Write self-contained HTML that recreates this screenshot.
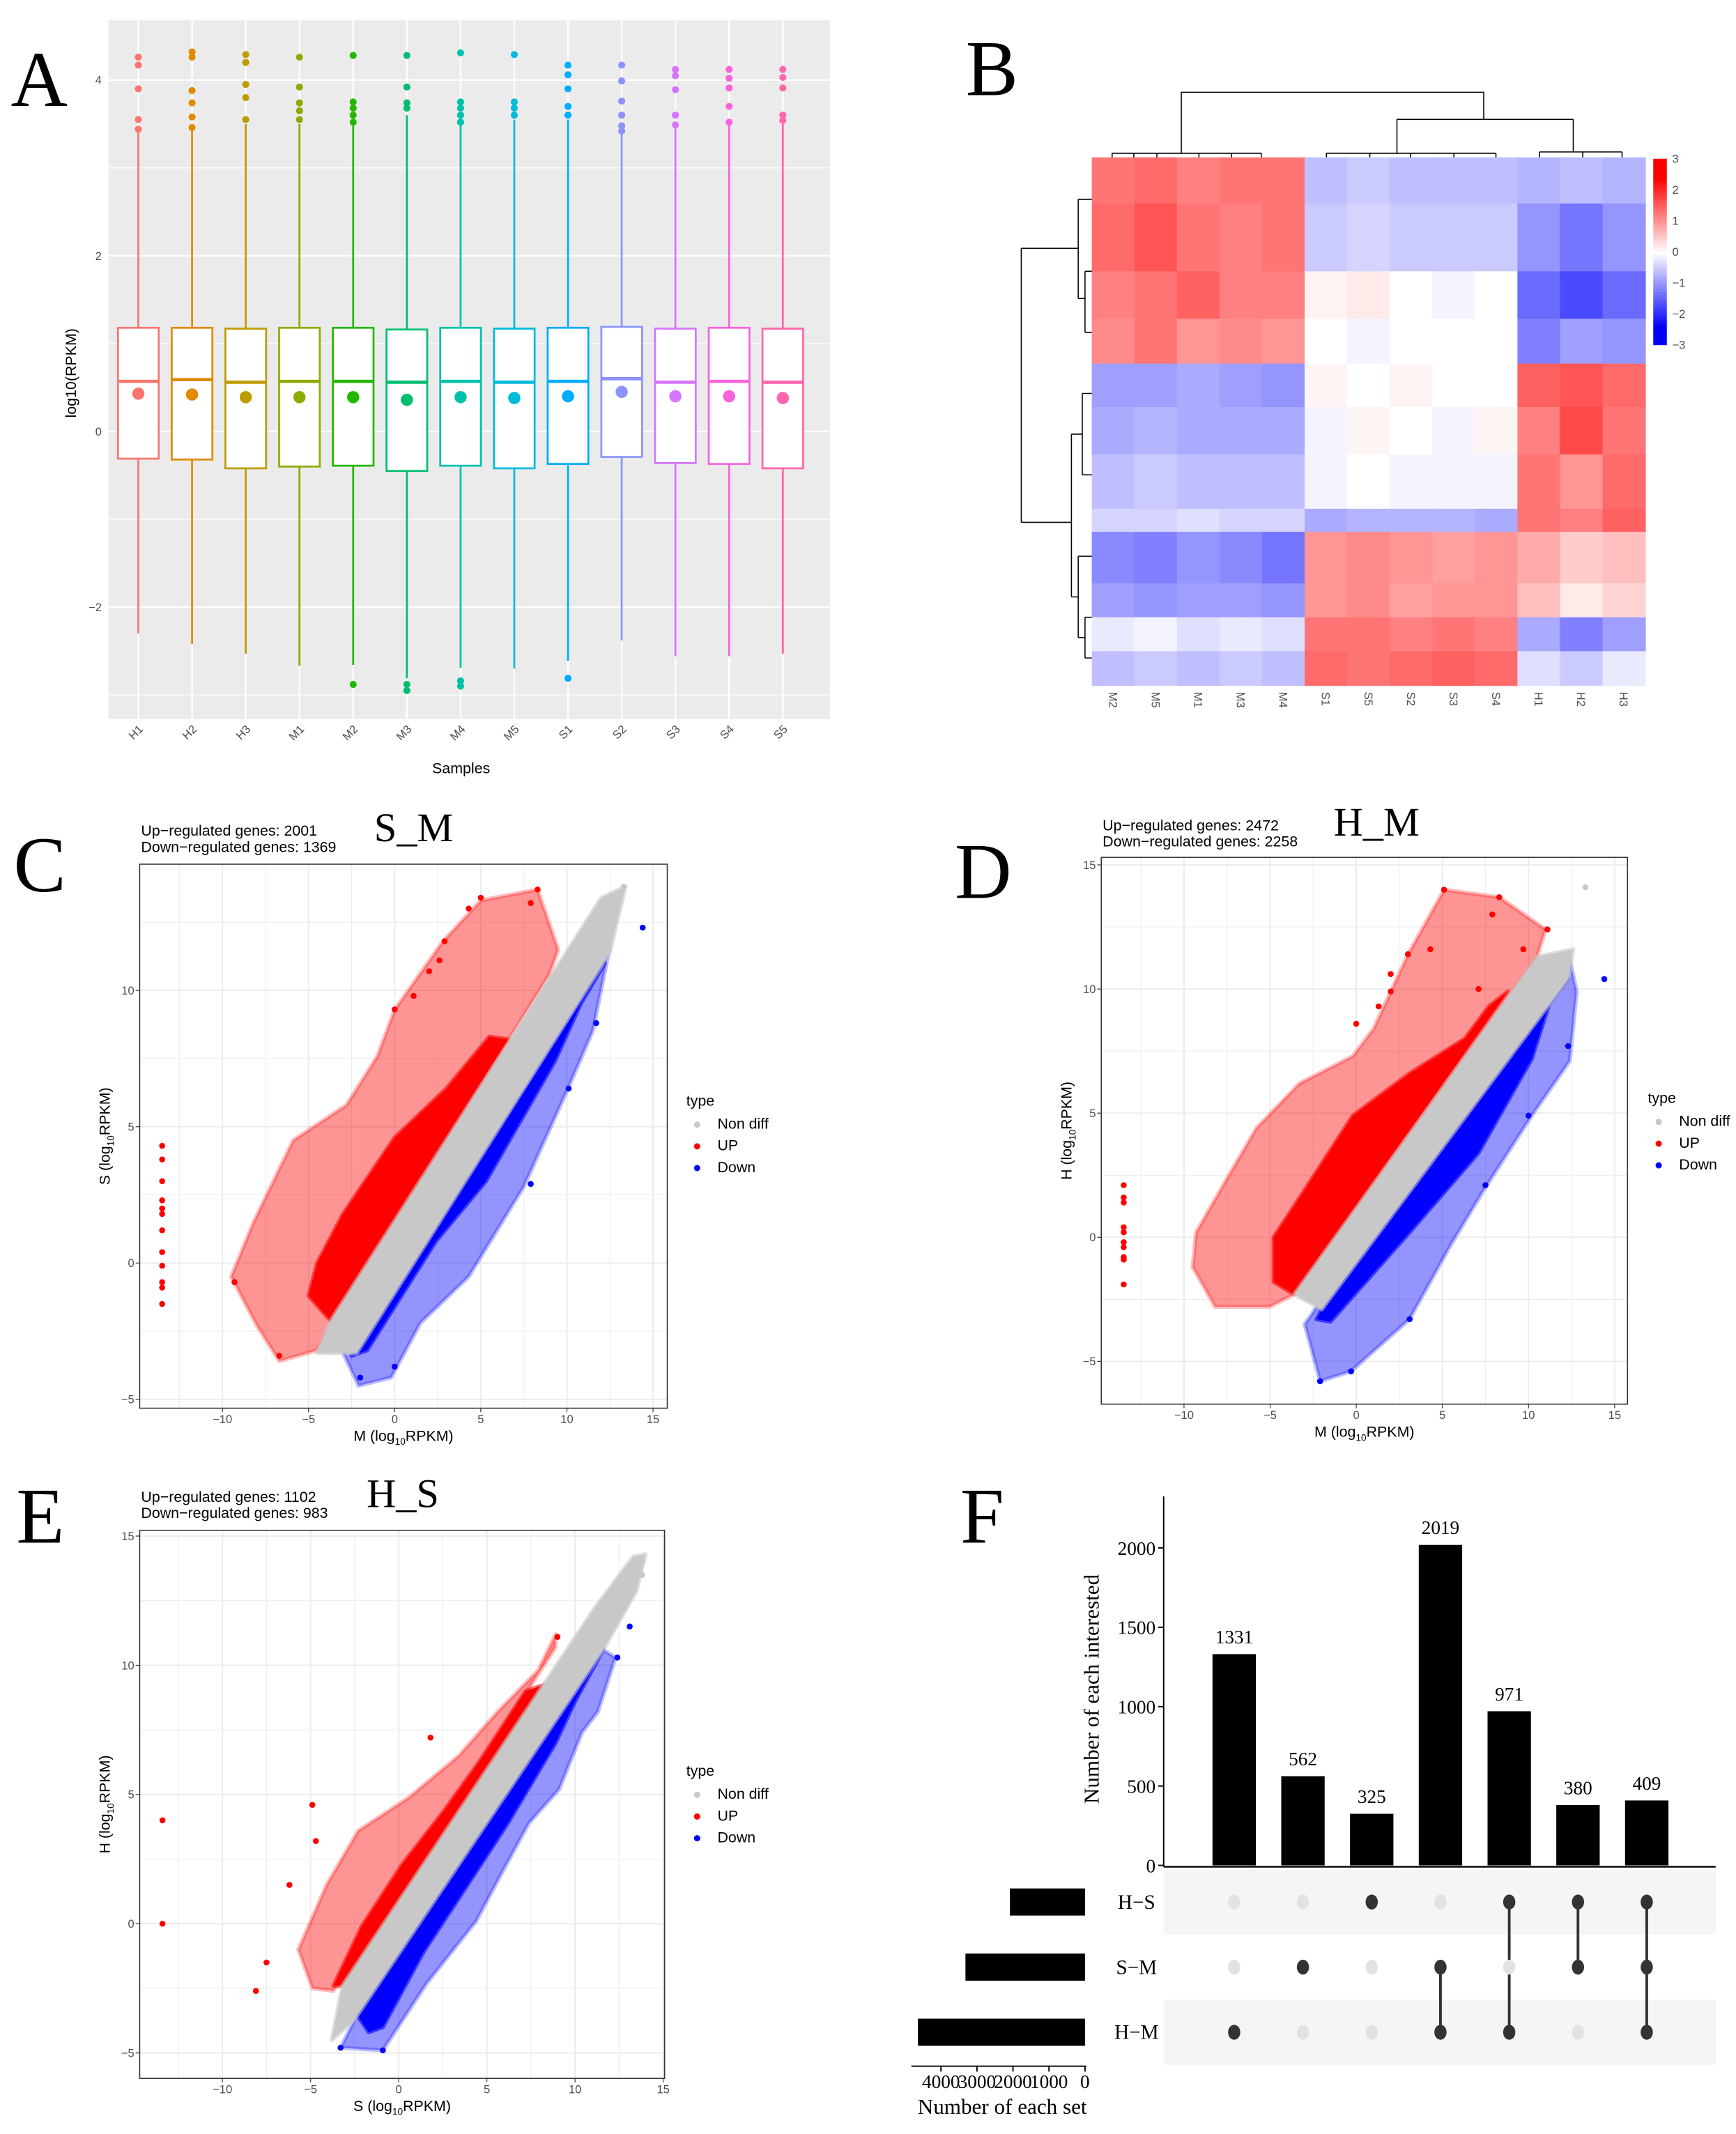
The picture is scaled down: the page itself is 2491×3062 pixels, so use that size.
<!DOCTYPE html>
<html><head><meta charset="utf-8"><style>
html,body{margin:0;padding:0;background:#fff;}
svg{display:block;}
.ax{font-family:"Liberation Sans",sans-serif;fill:#4d4d4d;font-size:8.5px;}
.lab{font-family:"Liberation Sans",sans-serif;fill:#000;font-size:11px;}
.ser{font-family:"Liberation Serif",serif;fill:#000;}
</style></head><body>
<svg id="fig" width="2491" height="3062" viewBox="0 0 1280 1573" preserveAspectRatio="none" xmlns="http://www.w3.org/2000/svg">
<text class="ser" x="8" y="78" font-size="58">A</text>
<text class="ser" x="712" y="70" font-size="58">B</text>
<text class="ser" x="10" y="657" font-size="58">C</text>
<text class="ser" x="704" y="662" font-size="58">D</text>
<text class="ser" x="12" y="1137" font-size="58">E</text>
<text class="ser" x="708" y="1137" font-size="58">F</text>
<g id="pa"></g>
<g id="pb"></g>
<g id="pc"></g>
<g id="pd"></g>
<g id="pe"></g>
<g id="pf"></g>
</svg>
<script>
// ---------- Panel A data ----------
const aSamples=["H1","H2","H3","M1","M2","M3","M4","M5","S1","S2","S3","S4","S5"];
const aColors=["#F8766D","#E18A00","#BE9C00","#8CAB00","#24B700","#00BE70","#00C1AB","#00BBDA","#00ACFC","#8B93FF","#D575FE","#F962DD","#FF65AC"];
const aQ1=[-0.31,-0.32,-0.42,-0.40,-0.39,-0.45,-0.39,-0.42,-0.37,-0.29,-0.36,-0.37,-0.42];
const aMed=[0.57,0.59,0.56,0.57,0.57,0.56,0.57,0.56,0.57,0.60,0.56,0.57,0.56];
const aQ3=[1.18,1.18,1.17,1.18,1.18,1.16,1.18,1.17,1.18,1.19,1.17,1.18,1.17];
const aMean=[0.43,0.42,0.39,0.39,0.39,0.36,0.39,0.38,0.40,0.45,0.40,0.40,0.38];
const aLo=[-2.30,-2.42,-2.53,-2.67,-2.66,-2.81,-2.69,-2.70,-2.61,-2.38,-2.56,-2.56,-2.53];
const aHi=[3.42,3.44,3.5,3.5,3.48,3.6,3.5,3.55,3.55,3.4,3.45,3.5,3.5];
const aOut=[[4.26,4.17,3.9,3.55,3.44],[4.32,4.26,3.88,3.74,3.58,3.46],[4.29,4.2,3.95,3.8,3.55],[4.26,3.92,3.74,3.65,3.55],[4.28,3.75,3.68,3.6,3.52,-2.88],[4.28,3.92,3.74,3.68,-2.88,-2.95],[4.31,3.75,3.68,3.6,3.52,-2.84,-2.9],[4.29,3.75,3.68,3.6],[4.17,4.06,3.9,3.7,3.6,-2.81],[4.17,3.99,3.76,3.6,3.48,3.42],[4.12,4.05,3.89,3.6,3.49],[4.12,4.02,3.91,3.7,3.52],[4.12,4.03,3.91,3.6,3.54]];
const aTicks=[4,2,0,-2];

// ---------- Panel B data ----------
const bCols=["M2","M5","M1","M3","M4","S1","S5","S2","S3","S4","H1","H2","H3"];
const bSegH=[34,50,35,33,32,35,40,17,38,25,25,25];
const bSegV=[
[1.3,1.4,1.2,1.3,1.3,-0.6,-0.5,-0.6,-0.6,-0.6,-0.7,-0.6,-0.7],
[1.4,1.6,1.3,1.2,1.3,-0.5,-0.4,-0.5,-0.5,-0.5,-1.0,-1.3,-1.0],
[1.2,1.3,1.5,1.2,1.2,0.1,0.2,0.0,-0.1,0.0,-1.4,-1.7,-1.4],
[1.1,1.3,1.0,1.1,1.0,0.0,-0.1,0.0,0.0,0.0,-1.2,-0.9,-1.0],
[-0.9,-0.9,-0.8,-0.9,-1.0,0.1,0.0,0.1,0.0,0.0,1.5,1.6,1.4],
[-0.8,-0.7,-0.8,-0.8,-0.8,-0.1,0.1,0.0,-0.1,0.1,1.2,1.7,1.3],
[-0.6,-0.5,-0.6,-0.6,-0.6,-0.1,0.0,-0.1,-0.1,-0.1,1.3,1.0,1.4],
[-0.4,-0.4,-0.3,-0.4,-0.4,-0.8,-0.7,-0.7,-0.7,-0.8,1.3,1.2,1.5],
[-1.1,-1.2,-1.0,-1.1,-1.3,1.0,1.1,1.0,0.9,1.0,0.8,0.5,0.6],
[-0.9,-1.0,-0.9,-0.9,-1.0,1.0,1.1,0.9,1.0,1.0,0.6,0.2,0.4],
[-0.2,-0.1,-0.3,-0.2,-0.3,1.3,1.3,1.2,1.3,1.2,-0.8,-1.2,-0.9],
[-0.6,-0.5,-0.6,-0.5,-0.6,1.4,1.3,1.4,1.5,1.4,-0.3,-0.5,-0.2]];
const bScale=[3,2,1,0,-1,-2,-3];

// ---------- Scatter data (polygons in data units, points) ----------
const cGray=[[-4.5,-3.3],[-2.2,-3.3],[12.5,11.4],[13.4,13.8],[12,13.4],[-3.7,-2.1]];
const cRedSparse=[[-9.5,-0.5],[-8,-2.3],[-6.7,-3.6],[-4.5,-3.2],[-3.6,-2.2],[9,10.6],[9.5,11.5],[8.3,13.7],[5,13.3],[2.8,11.8],[0,9.3],[-1,7.6],[-2.8,5.8],[-5.9,4.5],[-8.2,1.5]];
const cRedCore=[[-5,-1.2],[-3.6,-2.2],[6.6,8.2],[5.5,8.3],[3,6.4],[0,4.6],[-3,1.8],[-4.5,0]];
const cBlueSparse=[[-2.1,-4.5],[-0.2,-4.2],[1.5,-2.2],[4.3,-0.5],[7.5,2.8],[10,6.3],[11.5,8.5],[12.5,11.6],[12,11.8],[-3,-3.3]];
const cBlueCore=[[-2.5,-3.4],[-1.6,-3.2],[2.4,0.8],[5.3,3],[9.3,7.4],[10.8,9.5],[12.2,11],[-2.2,-3.3]];
const cRedPts=[[-13.5,4.3],[-13.5,3.8],[-13.5,3.0],[-13.5,2.3],[-13.5,2.0],[-13.5,1.8],[-13.5,1.2],[-13.5,0.4],[-13.5,-0.1],[-13.5,-0.7],[-13.5,-0.9],[-13.5,-1.5],[8.3,13.7],[7.9,13.2],[5,13.4],[4.3,13],[2.9,11.8],[2.6,11.1],[2,10.7],[1.1,9.8],[0,9.3],[-9.3,-0.7],[-6.7,-3.4]];
const cGrayPts=[[13.3,13.8]];
const cBluePts=[[14.4,12.3],[11.7,8.8],[10.1,6.4],[7.9,2.9],[-2,-4.2],[0,-3.8]];

const dGray=[[-3.6,-2.3],[-2,-2.9],[12.3,10.4],[12.6,11.6],[10.5,11.3]];
const dRedSparse=[[-9.5,-1.2],[-8.2,-2.8],[-5,-2.8],[-3.6,-2.3],[10.5,11.3],[11,12.4],[8.3,13.7],[5.1,14],[3,11.4],[1,8.4],[-0.2,7.3],[-3.3,6.2],[-5.8,4.4],[-7.4,2.5],[-9.3,0.2]];
const dRedCore=[[-4.8,-1.8],[-3.6,-2.3],[8.8,9.9],[7.7,9.3],[6.3,8],[3.1,6.6],[-0.2,4.9],[-3,1.9],[-4.8,0]];
const dBlueSparse=[[-3,-3.5],[-2.1,-5.8],[-0.3,-5.4],[3.1,-3.3],[5.5,-0.3],[7.5,2],[10.2,4.9],[12.4,7.1],[12.8,9.9],[12.4,11.2],[11.5,11]];
const dBlueCore=[[-2,-2.9],[-2.3,-3.3],[-1.5,-3.4],[3.1,0.2],[7.1,3.4],[10.2,7.2],[11.8,10.7],[12.3,10.4]];
const dRedPts=[[-13.5,2.1],[-13.5,1.6],[-13.5,1.4],[-13.5,0.4],[-13.5,0.2],[-13.5,-0.2],[-13.5,-0.4],[-13.5,-0.8],[-13.5,-0.9],[-13.5,-1.9],[5.1,14],[8.3,13.7],[7.9,13],[11.1,12.4],[3,11.4],[4.3,11.6],[2,10.6],[2,9.9],[1.3,9.3],[0,8.6],[7.1,10],[9.7,11.6]];
const dGrayPts=[[13.3,14.1]];
const dBluePts=[[14.4,10.4],[12.3,7.7],[10,4.9],[7.5,2.1],[3.1,-3.3],[-2.1,-5.8],[-0.3,-5.4]];

const eGray=[[-3.8,-4.5],[-2.5,-3.7],[11.6,10.6],[13.5,12.9],[14,14.3],[13.3,14.2],[11.2,12.3],[-3.2,-2.4]];
const eRedSparse=[[-5.7,-1],[-4.9,-2.5],[-3.7,-2.6],[8.9,10.7],[8.9,11.2],[7.9,9.8],[5.6,8.2],[3.4,6.5],[0.6,4.9],[-2.3,3.6],[-4.1,1.5]];
const eRedCore=[[-3.7,-2.4],[-3.2,-2.4],[8.5,9.3],[7.2,9],[4.6,6.3],[2.6,4.4],[0.2,2.3],[-2.1,-0.1]];
const eBlueSparse=[[-3.3,-4.8],[-0.9,-4.9],[1.6,-2.3],[4.4,0.1],[5.8,1.9],[7.4,3.9],[9.1,5.2],[10.4,7.4],[11.3,8.2],[12.3,10.3],[11.6,10.6],[-2.5,-3.7]];
const eBlueCore=[[-2.4,-3.5],[-1.7,-4.2],[-0.9,-4],[1.4,-1.1],[4,1.6],[6.2,3.9],[8.9,7],[10,8.6],[11.6,10.6]];
const eRedPts=[[-13.4,4.0],[-13.4,0],[-8.1,-2.6],[-7.5,-1.5],[-6.2,1.5],[-4.9,4.6],[-4.7,3.2],[1.8,7.2],[9,11.1]];
const eGrayPts=[[13.8,14],[13.8,13.5],[13.3,12.9],[11.5,12.3]];
const eBluePts=[[13.1,11.5],[12.4,10.3],[-3.3,-4.8],[-0.9,-4.9]];

// ---------- Panel F data ----------
const fValues=[1331,562,325,2019,971,380,409];
const fSets=["H\u2212S","S\u2212M","H\u2212M"];
const fSetSizes=[2085,3320,4640];
const fMembership=[[2],[1],[0],[1,2],[0,2],[0,1],[0,1,2]];
const fTicks=[0,500,1000,1500,2000];
const fSetTicks=[4000,3000,2000,1000,0];

// ---------- helpers ----------
const NS="http://www.w3.org/2000/svg";
function mk(tag,attrs,parent){const e=document.createElementNS(NS,tag);for(const k in attrs)e.setAttribute(k,attrs[k]);parent.appendChild(e);return e;}
function txt(s,attrs,parent){const e=mk("text",attrs,parent);e.textContent=s;return e;}

// ---------- Panel A ----------
(function(){
const g=document.getElementById("pa");
const y=v=>318-v*64.75, x=i=>102+i*39.6;
let el=mk("rect",{x:80,y:15,width:532,height:515,fill:"#ebebeb"},g);


[3,1,-1,-3].forEach(v=>{const l=mk("line",{x1:80,x2:612,y1:y(v),y2:y(v),stroke:"#fff","stroke-width":0.6},g);

});
aTicks.forEach(v=>{const l=mk("line",{x1:80,x2:612,y1:y(v),y2:y(v),stroke:"#fff","stroke-width":1.2},g);


const t=txt(v<0?"\u2212"+(-v):String(v),{x:75,y:y(v)+3,"text-anchor":"end",class:"ax"},g);

});
aSamples.forEach((s,i)=>{
const l=mk("line",{x1:x(i),x2:x(i),y1:15,y2:530,stroke:"#fff","stroke-width":1.2},g);


const c=aColors[i];
const w=mk("line",{x1:x(i),x2:x(i),y1:y(aHi[i]),y2:y(aLo[i]),stroke:c,"stroke-width":1.4},g);


const b=mk("rect",{x:x(i)-15,y:y(aQ3[i]),width:30,height:y(aQ1[i])-y(aQ3[i]),fill:"#fff",stroke:c,"stroke-width":1.4},g);


const m=mk("line",{x1:x(i)-15,x2:x(i)+15,y1:y(aMed[i]),y2:y(aMed[i]),stroke:c,"stroke-width":2.4},g);


const mn=mk("circle",{cx:x(i),cy:y(aMean[i]),r:4.5,fill:c},g);


aOut[i].forEach(v=>{const o=mk("circle",{cx:x(i),cy:y(v),r:2.6,fill:c},g);

});
const t=txt(s,{x:0,y:0,transform:`translate(${x(i)+4},${538}) rotate(-45)`,"text-anchor":"end",class:"ax"},g);


});
let t=txt("Samples",{x:340,y:570,"text-anchor":"middle",class:"lab"},g);


t=txt("log10(RPKM)",{x:0,y:0,transform:"translate(56,275) rotate(-90)","text-anchor":"middle",class:"lab"},g);


})();

// ---------- Panel B ----------
(function(){
const g=document.getElementById("pb");
const x0=805,cw=408/13;
function col(v){const t=Math.min(Math.abs(v)/2.4,1);const k=Math.round(255*(1-t));
return v>=0?`rgb(255,${k},${k})`:`rgb(${k},${k},255)`;}
let yy=116;
bSegH.forEach((h,si)=>{
bSegV[si].forEach((v,ci)=>{
const r=mk("rect",{x:x0+ci*cw,y:yy,width:cw+0.5,height:h+0.5,fill:col(v)},g);

});
yy+=h;});
bCols.forEach((c,i)=>{const t=txt(c,{x:0,y:0,transform:`translate(${x0+cw*(i+0.5)-3},510) rotate(90)`,class:"ax","font-size":"8"},g);

});
for(let k=0;k<60;k++){const v=3-k*0.1;const r=mk("rect",{x:1219,y:117+k*137/60,width:10,height:137/60+0.4,fill:col(v)},g);

}
bScale.forEach(v=>{const t=txt(v<0?"\u2212"+(-v):String(v),{x:1233,y:117+(3-v)/6*137+3,class:"ax","font-size":"8"},g);

});
const d="M871,113 V68 H1094 V88 M1030,88 H1160 M1030,88 V113 M1160,88 V112 M836,113 H908 M836,113 v3 M908,113 v3 M853,116 v-3 M884,116 v-3 M930,116 v-3 M978,113 H1103 M978,113 v3 M1103,113 v3 M1010,116 v-3 M1040,116 v-3 M1072,116 v-3 M1135,112 H1196 M1135,112 v4 M1196,112 v4 M1167,116 v-4 M908,113 H930 M820,116 v-3 H836"
+" M753,183 V385 M753,183 H795 M753,385 H790 M795,147 V220 M795,147 H805 M795,220 H800 M800,200 V245 M800,200 H805 M800,245 H805 M790,320 V440 M790,320 H798 M790,440 H795 M798,290 V350 M798,290 H805 M798,350 H805 M795,410 V470 M795,410 H805 M795,470 H800 M800,455 V485 M800,455 H805 M800,485 H805";
const p=mk("path",{d:d,stroke:"#000","stroke-width":0.8,fill:"none"},g);


})();

// ---------- Scatter panels ----------
function scatter(id,o){
const g=document.getElementById(id);
const X=v=>o.x0+v*o.sx, Y=v=>o.y0-v*o.sy;
let el=mk("rect",{x:o.L,y:o.T,width:o.R-o.L,height:o.B-o.T,fill:"#fff"},g);


for(let v=-12.5;v<=17.5;v+=2.5){const px=X(v);if(px<o.L||px>o.R)continue;
const l=mk("line",{x1:px,x2:px,y1:o.T,y2:o.B,stroke:"#ebebeb","stroke-width":v%5===0?1:0.5},g);

}
for(let v=-7.5;v<=17.5;v+=2.5){const py=Y(v);if(py<o.T||py>o.B)continue;
const l=mk("line",{x1:o.L,x2:o.R,y1:py,y2:py,stroke:"#ebebeb","stroke-width":v%5===0?1:0.5},g);

}
o.xt.forEach(v=>{const t=txt(v<0?"\u2212"+(-v):String(v),{x:X(v),y:o.B+11,"text-anchor":"middle",class:"ax","font-size":"8"},g);


const k=mk("line",{x1:X(v),x2:X(v),y1:o.B,y2:o.B+3,stroke:"#333","stroke-width":0.6},g);

});
o.yt.forEach(v=>{const t=txt(v<0?"\u2212"+(-v):String(v),{x:o.L-4,y:Y(v)+3,"text-anchor":"end",class:"ax","font-size":"8"},g);


const k=mk("line",{x1:o.L-3,x2:o.L,y1:Y(v),y2:Y(v),stroke:"#333","stroke-width":0.6},g);

});
const poly=(pts,fill,op,name)=>{const p=mk("polygon",{points:pts.map(q=>X(q[0])+","+Y(q[1])).join(" "),fill:fill,"fill-opacity":op,stroke:fill,"stroke-opacity":op*0.6,"stroke-width":3,"stroke-linejoin":"round"},g);

};
poly(o.redS,"#ff0000",0.42,'up-genes-sparse');
poly(o.blueS,"#0000ff",0.42,'down-genes-sparse');
poly(o.redC,"#ff0000",1,'up-genes-dense');
poly(o.blueC,"#0000ff",1,'down-genes-dense');
poly(o.gray,"#c8c8c8",1,'nondiff-genes');
const pts=(arr,c,name)=>arr.forEach(q=>{const e=mk("circle",{cx:X(q[0]),cy:Y(q[1]),r:2.2,fill:c},g);

});
pts(o.rp,"#ff0000",'up-gene-point');pts(o.gp,"#c8c8c8",'nondiff-gene-point');pts(o.bp,"#0000ff",'down-gene-point');
el=mk("rect",{x:o.L,y:o.T,width:o.R-o.L,height:o.B-o.T,fill:"none",stroke:"#333","stroke-width":0.8},g);


let t=txt(o.title,{x:o.tx,y:o.ty,"text-anchor":"middle",class:"ser","font-size":"30"},g);


t=txt("Up\u2212regulated genes: "+o.up,{x:o.L+1,y:o.ty-4,class:"lab","font-size":"9.5"},g);


t=txt("Down\u2212regulated genes: "+o.down,{x:o.L+1,y:o.ty+8,class:"lab","font-size":"9.5"},g);


t=mk("text",{x:(o.L+o.R)/2,y:o.B+24,"text-anchor":"middle",class:"lab","font-size":"10"},g);
t.innerHTML=o.xl+' (log<tspan font-size="7" dy="3">10</tspan><tspan dy="-3">RPKM)</tspan>';


t=mk("text",{x:0,y:0,transform:`translate(${o.L-22},${(o.T+o.B)/2}) rotate(-90)`,"text-anchor":"middle",class:"lab","font-size":"10"},g);
t.innerHTML=o.yl+' (log<tspan font-size="7" dy="3">10</tspan><tspan dy="-3">RPKM)</tspan>';


t=txt("type",{x:o.lx-8,y:o.ly,class:"lab","font-size":"10"},g);


[["Non diff","#c8c8c8"],["UP","#ff0000"],["Down","#0000ff"]].forEach((e,i)=>{
const c=mk("circle",{cx:o.lx,cy:o.ly+14+i*16,r:2.3,fill:e[1]},g);


const tt=txt(e[0],{x:o.lx+15,y:o.ly+17+i*16,class:"lab","font-size":"8"},g);

});
}
scatter("pc",{L:103,R:492,T:637,B:1038,x0:291,sx:12.7,y0:931,sy:20.1,xt:[-10,-5,0,5,10,15],yt:[10,5,0,-5],
gray:cGray,redS:cRedSparse,redC:cRedCore,blueS:cBlueSparse,blueC:cBlueCore,rp:cRedPts,gp:cGrayPts,bp:cBluePts,
title:"S_M",tx:305,ty:620,up:2001,down:1369,xl:"M",yl:"S",lx:514,ly:815});
scatter("pd",{L:812,R:1200,T:632,B:1035,x0:1000,sx:12.7,y0:912,sy:18.3,xt:[-10,-5,0,5,10,15],yt:[15,10,5,0,-5],
gray:dGray,redS:dRedSparse,redC:dRedCore,blueS:dBlueSparse,blueC:dBlueCore,rp:dRedPts,gp:dGrayPts,bp:dBluePts,
title:"H_M",tx:1015,ty:616,up:2472,down:2258,xl:"M",yl:"H",lx:1223,ly:813});
scatter("pe",{L:103,R:490,T:1128,B:1532,x0:294,sx:13,y0:1418,sy:19.05,xt:[-10,-5,0,5,10,15],yt:[15,10,5,0,-5],
gray:eGray,redS:eRedSparse,redC:eRedCore,blueS:eBlueSparse,blueC:eBlueCore,rp:eRedPts,gp:eGrayPts,bp:eBluePts,
title:"H_S",tx:297,ty:1111,up:1102,down:983,xl:"S",yl:"H",lx:514,ly:1309});

// ---------- Panel F ----------
(function(){
const g=document.getElementById("pf");
const Y=v=>1375-v*0.117, X=i=>910+i*50.7, rowY=[1402,1450,1498];
const SX=v=>800-v*0.02655;
[0,2].forEach(r=>{const b=mk("rect",{x:858,y:rowY[r]-24,width:407,height:48,fill:"#f5f5f5"},g);

});
let a=mk("line",{x1:858,x2:858,y1:1103,y2:1376,stroke:"#000","stroke-width":1},g);


a=mk("line",{x1:858,x2:1265,y1:1376,y2:1376,stroke:"#000","stroke-width":1.2},g);


fTicks.forEach(v=>{const l=mk("line",{x1:854,x2:858,y1:Y(v),y2:Y(v),stroke:"#000"},g);


const t=txt(String(v),{x:852,y:Y(v)+5,"text-anchor":"end",class:"ser","font-size":"14"},g);

});
fValues.forEach((v,i)=>{
const b=mk("rect",{x:X(i)-16,y:Y(v),width:32,height:1375-Y(v),fill:"#000"},g);


const t=txt(String(v),{x:X(i),y:Y(v)-8,"text-anchor":"middle",class:"ser","font-size":"14"},g);


const m=fMembership[i];
if(m.length>1){const l=mk("line",{x1:X(i),x2:X(i),y1:rowY[Math.min(...m)],y2:rowY[Math.max(...m)],stroke:"#333","stroke-width":2},g);

}
rowY.forEach((ry,r)=>{const on=m.includes(r);const c=mk("ellipse",{cx:X(i),cy:ry,rx:4.5,ry:5.5,fill:on?"#333":"#e2e2e2"},g);

});
});
fSets.forEach((s,r)=>{
const b=mk("rect",{x:SX(fSetSizes[r]),y:rowY[r]-10,width:800-SX(fSetSizes[r]),height:20,fill:"#000"},g);


const t=txt(s,{x:838,y:rowY[r]+5,"text-anchor":"middle",class:"ser","font-size":"15"},g);

});
a=mk("line",{x1:672,x2:801,y1:1523,y2:1523,stroke:"#000"},g);


fSetTicks.forEach(v=>{const l=mk("line",{x1:SX(v),x2:SX(v),y1:1523,y2:1527,stroke:"#000"},g);


const t=txt(String(v),{x:SX(v),y:1539,"text-anchor":"middle",class:"ser","font-size":"14"},g);

});
let t=txt("Number of each set",{x:739,y:1558,"text-anchor":"middle",class:"ser","font-size":"16"},g);


t=txt("Number of each interested",{x:0,y:0,transform:"translate(810,1245) rotate(-90)","text-anchor":"middle",class:"ser","font-size":"16"},g);


})();
</script>
</body></html>
